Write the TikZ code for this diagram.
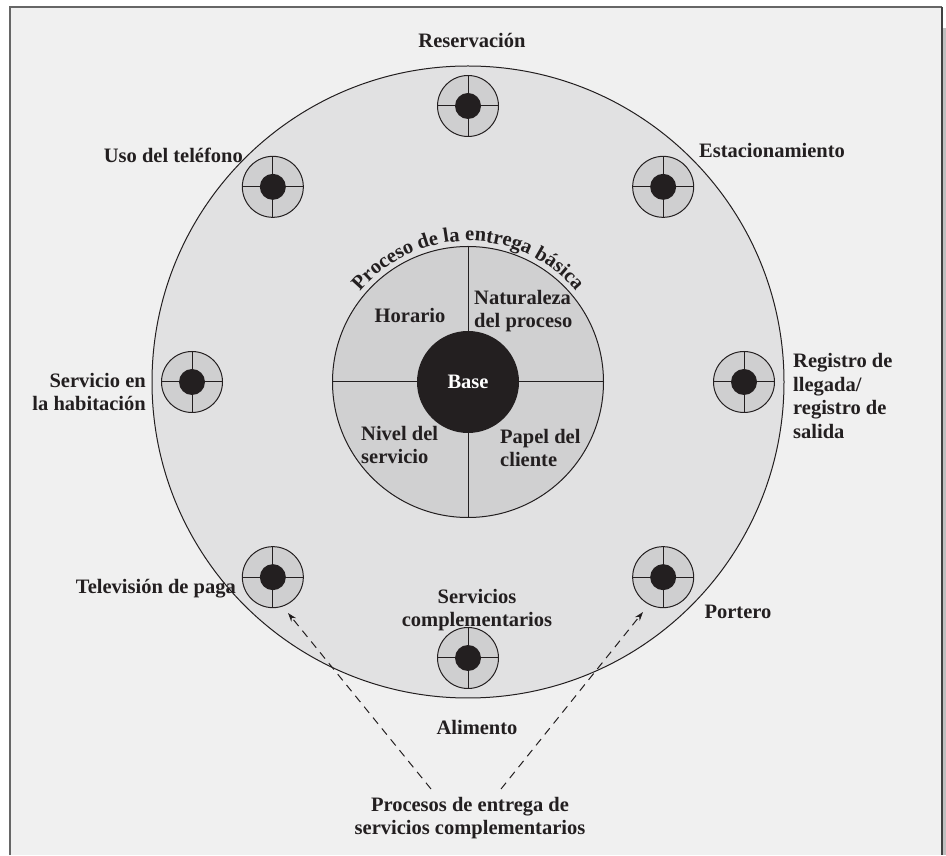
\documentclass[tikz,border=0pt]{standalone}
\usepackage{fontspec}
\setmainfont{Liberation Serif}
\usetikzlibrary{arrows.meta,decorations.text,calc}
\definecolor{bgc}{HTML}{F0F0F0}
\definecolor{bigc}{HTML}{E1E1E2}
\definecolor{innc}{HTML}{D0D0D1}
\definecolor{smc}{HTML}{CFCFD0}
\definecolor{inkc}{HTML}{231F20}
\begin{document}
\begin{tikzpicture}[x=1pt,y=1pt,
  lab/.style={text=inkc, font=\bfseries\fontsize{20.5}{23.5}\selectfont, inner sep=0pt},
  smallc/.style={circle, draw=inkc, line width=1pt, fill=smc, minimum size=61pt, inner sep=0pt,
    path picture={\draw[inkc,line width=1pt] (path picture bounding box.west) -- (path picture bounding box.east) (path picture bounding box.north) -- (path picture bounding box.south); \fill[inkc] (path picture bounding box.center) circle (13pt);}},
  dasharrow/.style={draw=inkc, line width=1pt, dash pattern=on 8pt off 6pt, -{Stealth[length=9pt,width=6pt]}}
]
\useasboundingbox (0,0) rectangle (946,855);
\fill[white] (0,0) rectangle (946,855);
\fill[bgc] (10,0) rectangle (942,848);
\fill[black!25] (943,0) rectangle (946,827);
\draw[line width=2pt, draw=black!60] (10,0) -- (10,848) -- (942,848);
\draw[line width=2pt, draw=black!75] (942,848) -- (942,0);

\coordinate (C) at (468,473);
\node[circle, draw=inkc, line width=1pt, fill=bigc, minimum size=632pt, inner sep=0pt] (big) at (C) {};
\node[circle, draw=inkc, line width=1pt, fill=innc, minimum size=271pt, inner sep=0pt] (inner) at (C) {};
\draw[inkc, line width=1pt] (inner.north) -- (inner.south) (inner.west) -- (inner.east);
\node[circle, fill=inkc, minimum size=102pt, inner sep=0pt] (base) at (C) {};
\node[lab, text=white] (basel) at (C) {Base};

\path[decorate, decoration={text along path, text color=inkc,
  text={|\bfseries\fontsize{20.5}{20.5}\selectfont|Proceso de la entrega básica}, text align=center}]
  ($(C)+(160:141)$) arc[start angle=160, end angle=20, radius=141];

\node[lab] (hor) at (410,540) {Horario};
\node[lab, anchor=west, align=left] (nat) at (474,544) {Naturaleza\\del proceso};
\node[lab, anchor=west, align=left] (niv) at (361,410) {Nivel del\\servicio};
\node[lab, anchor=west, align=left] (pap) at (500,407) {Papel del\\cliente};

\node[smallc] (s1) at ($(C)+(90:276)$) {};
\node[smallc] (s2) at ($(C)+(135:276)$) {};
\node[smallc] (s3) at ($(C)+(45:276)$) {};
\node[smallc] (s4) at ($(C)+(180:276)$) {};
\node[smallc] (s5) at ($(C)+(0:276)$) {};
\node[smallc] (s6) at ($(C)+(225:276)$) {};
\node[smallc] (s7) at ($(C)+(315:276)$) {};
\node[smallc] (s8) at ($(C)+(270:276)$) {};

\node[lab] (l1) at (472,815) {Reservación};
\node[lab, anchor=east] (l2) at (243,700) {Uso del teléfono};
\node[lab] (l3) at (772,705) {Estacionamiento};
\node[lab, anchor=east, align=right] (l4) at (146,463) {Servicio en\\la habitación};
\node[lab, anchor=west, align=left] (l5) at (793,459) {Registro de\\llegada/\\registro de\\salida};
\node[lab, anchor=east] (l6) at (236,266) {Televisión de paga};
\node[lab] (l7) at (738,243) {Portero};
\node[lab, align=center] (l8) at (477,245) {Servicios\\complementarios};
\node[lab] (l9) at (477,128) {Alimento};
\node[lab, align=center] (proc) at (470,37) {Procesos de entrega de\\servicios complementarios};

\coordinate (a1) at (431,66);
\coordinate (a2) at (501,66);
\coordinate (t1) at (288,242);
\coordinate (t2) at (643,243);
\draw[dasharrow] (a1) -- (t1);
\draw[dasharrow] (a2) -- (t2);
\end{tikzpicture}
\end{document}
